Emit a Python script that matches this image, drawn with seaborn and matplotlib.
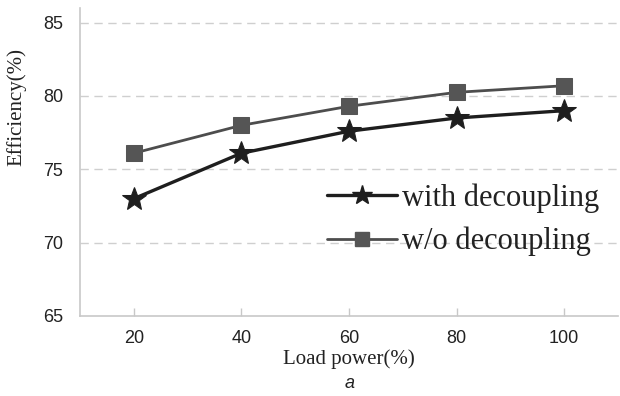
import matplotlib
matplotlib.use("Agg")
import matplotlib.pyplot as plt
import seaborn as sns
import pandas as pd
from matplotlib.lines import Line2D

load_power = [20, 40, 60, 80, 100]
with_decoupling = [73.0, 76.1, 77.6, 78.5, 79.0]
wo_decoupling = [76.1, 78.0, 79.3, 80.25, 80.7]
series_names = ["with decoupling", "w/o decoupling"]
y_ticks = [65, 70, 75, 80, 85]

sns.set_theme(style="white")
plt.rcParams['font.family'] = ['Liberation Sans', 'DejaVu Sans']

fig = plt.figure(figsize=(6.2, 3.96), dpi=100)
ax = fig.add_axes([80/620, 1-316/396, 538/620, 308/396])

df1 = pd.DataFrame({"x": load_power, "y": with_decoupling})
df2 = pd.DataFrame({"x": load_power, "y": wo_decoupling})

c1 = "#1e1e1e"
c2 = "#4d4d4d"

# grid
for yv in y_ticks[1:]:
    ax.axhline(yv, color="#cfcfcf", lw=1.0, ls=(0, (6, 4)), zorder=0)

sns.lineplot(data=df2, x="x", y="y", ax=ax, color=c2, lw=2.0,
             marker="s", markersize=12, markerfacecolor="#555555",
             markeredgecolor="#555555", label=series_names[1], zorder=3)
sns.lineplot(data=df1, x="x", y="y", ax=ax, color=c1, lw=2.4,
             marker="*", markersize=18, markerfacecolor=c1,
             markeredgecolor=c1, label=series_names[0], zorder=4)

ax.set_xlim(10, 110)
ax.set_ylim(65, 86)
ax.set_xticks(load_power)
ax.set_xticklabels([str(v) for v in load_power])
ax.set_yticks(y_ticks)
ax.set_yticklabels([str(v) for v in y_ticks])

for s in ["top", "right"]:
    ax.spines[s].set_visible(False)
for s in ["left", "bottom"]:
    ax.spines[s].set_color("#c8c8c8")
    ax.spines[s].set_linewidth(1.2)

ax.tick_params(axis="x", direction="in", length=6, width=1, color="#c8c8c8",
               labelsize=13, pad=10, labelcolor="#222222", bottom=True)
ax.tick_params(axis="y", length=0, labelsize=13, pad=12, labelcolor="#222222", left=False)

ax.set_xlabel("Load power(%)", family=["Liberation Serif"], fontsize=15, color="#222222", labelpad=2)
ax.set_ylabel("Efficiency(%)", family=["Liberation Serif"], fontsize=15, color="#222222")
ax.yaxis.set_label_coords(-0.1, 0.68)

fig.text(350/620, 1-383/396, "a", style="italic", fontsize=13, color="#222222",
         ha="center", va="center")

handles = [
    Line2D([], [], color=c1, lw=2.4, marker="*", markersize=15, markerfacecolor=c1, markeredgecolor=c1),
    Line2D([], [], color=c2, lw=2.0, marker="s", markersize=10, markerfacecolor="#555555", markeredgecolor="#555555"),
]
leg = ax.legend(handles, series_names, loc="center left",
                bbox_to_anchor=((327-80)/538, (316-220)/308),
                frameon=False, prop={"family": "Liberation Serif", "size": 22},
                handlelength=2.3, handletextpad=0.15, labelspacing=0.45,
                borderpad=0, borderaxespad=0)
for t in leg.get_texts():
    t.set_color("#222222")

fig.savefig("out.png", dpi=100)
